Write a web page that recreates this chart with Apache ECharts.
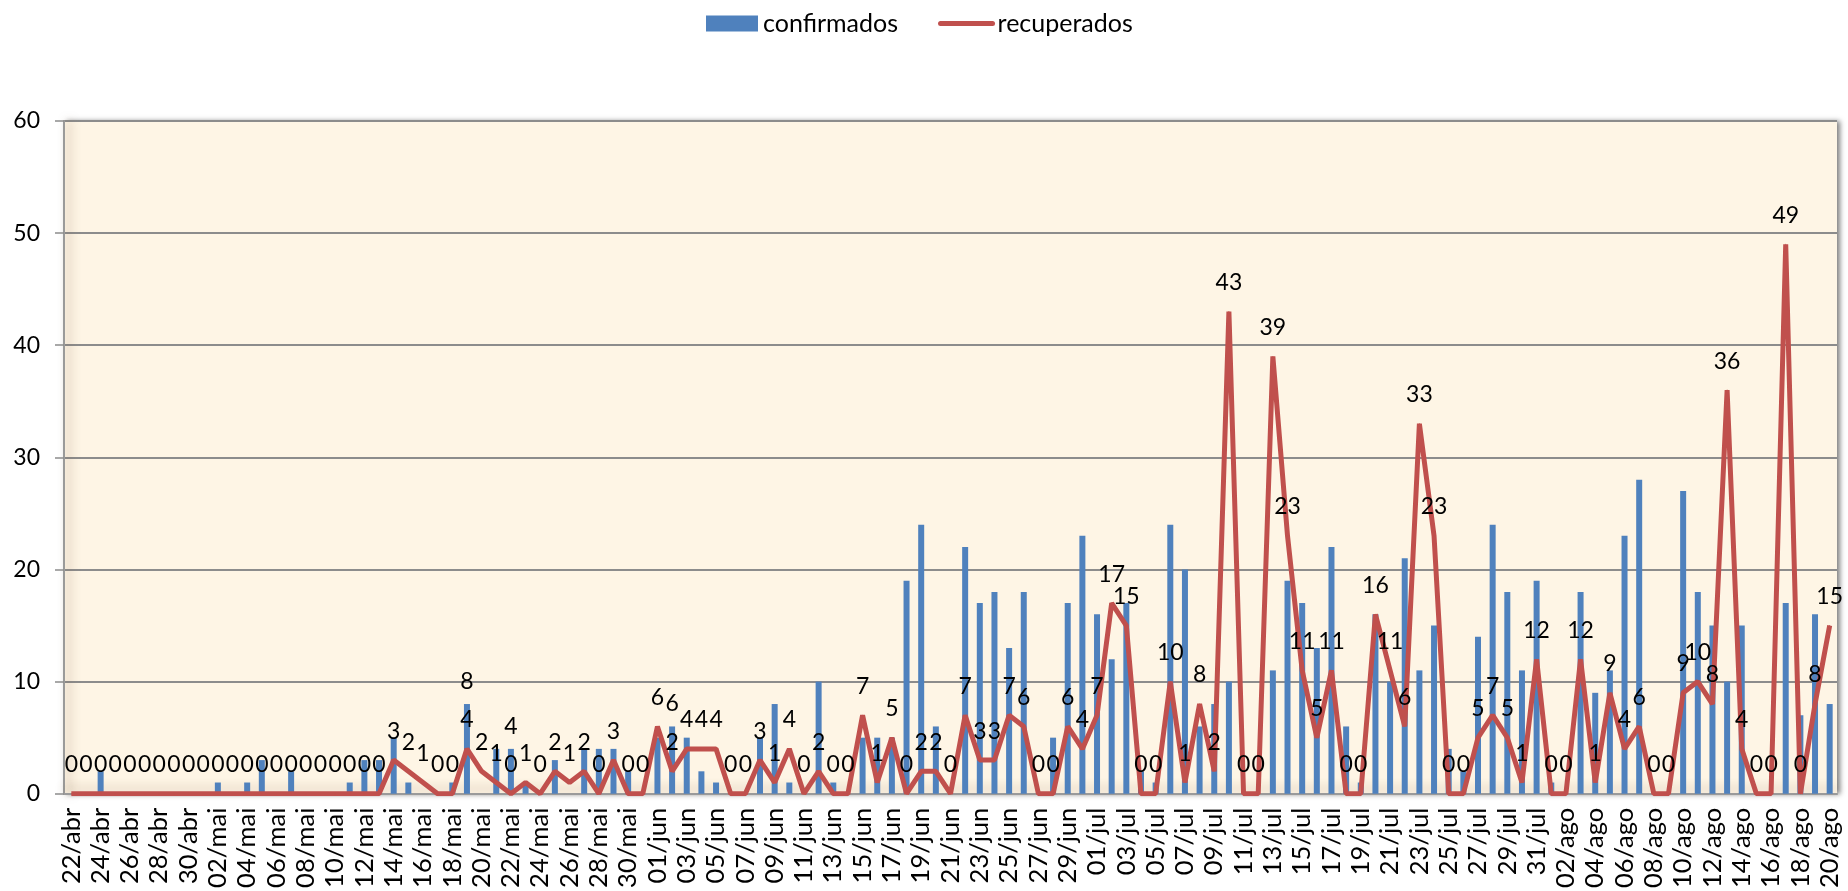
<!DOCTYPE html>
<html>
<head>
<meta charset="utf-8">
<script src="https://cdn.jsdelivr.net/npm/echarts@6/dist/echarts.min.js"></script>
<style>
  html, body { margin: 0; padding: 0; background: #fff; }
  #main { width: 1848px; height: 891px; }
</style>
</head>
<body>
<div id="main"></div>
<script>
// days 22/abr .. 20/ago
const monthRanges = [['abr', 22, 30], ['mai', 1, 31], ['jun', 1, 30], ['jul', 1, 31], ['ago', 1, 20]]
const days = []
monthRanges.forEach(([m, from, to]) => {
  for (let d = from; d <= to; d++) days.push(String(d).padStart(2, '0') + '/' + m)
})

const confirmados = [
  0, 0, 2, 0, 0, 0, 0, 0, 0,
  0, 1, 0, 1, 3, 0, 2, 0, 0, 0, 1, 3, 3, 5, 1, 0, 0, 1, 8, 0, 4, 4, 1, 0, 3, 0, 4, 4, 4, 2, 0,
  5, 6, 5, 2, 1, 0, 0, 5, 8, 1, 0, 10, 1, 0, 5, 5, 5, 19, 24, 6, 0, 22, 17, 18, 13, 18, 0, 5, 17, 23,
  16, 12, 17, 2, 1, 24, 20, 6, 8, 10, 0, 0, 11, 19, 17, 13, 22, 6, 1, 16, 10, 21, 11, 15, 4, 2, 14, 24, 18, 11, 19,
  1, 0, 18, 9, 11, 23, 28, 0, 0, 27, 18, 15, 10, 15, 0, 0, 17, 7, 16, 8
]
const recuperados = [
  0, 0, 0, 0, 0, 0, 0, 0, 0,
  0, 0, 0, 0, 0, 0, 0, 0, 0, 0, 0, 0, 0, 3, 2, 1, 0, 0, 4, 2, 1, 0, 1, 0, 2, 1, 2, 0, 3, 0, 0,
  6, 2, 4, 4, 4, 0, 0, 3, 1, 4, 0, 2, 0, 0, 7, 1, 5, 0, 2, 2, 0, 7, 3, 3, 7, 6, 0, 0, 6, 4,
  7, 17, 15, 0, 0, 10, 1, 8, 2, 43, 0, 0, 39, 23, 11, 5, 11, 0, 0, 16, 11, 6, 33, 23, 0, 0, 5, 7, 5, 1, 12,
  0, 0, 12, 1, 9, 4, 6, 0, 0, 9, 10, 8, 36, 4, 0, 0, 49, 0, 8, 15
]
// bars that carry a value label in the original
const labeledBars = ['19/mai', '22/mai', '02/jun']

const yMin = 0
const yMax = 60
const yStep = 10

const FONT = 'Lato'
const LABEL_SIZE = 23

const chart = echarts.init(document.getElementById('main'))

const option = {
  backgroundColor: '#ffffff',
  animation: false,
  textStyle: { fontFamily: FONT, color: '#000' },
  legend: {
    left: 701,
    top: 6,
    itemGap: 40,
    itemWidth: 52,
    itemHeight: 16,
    textStyle: { fontFamily: FONT, fontSize: 25, color: '#000' },
    data: [
      { name: 'confirmados', icon: 'rect' },
      { name: 'recuperados', itemStyle: { opacity: 0 }, lineStyle: { width: 5, cap: 'round' } }
    ]
  },
  grid: {
    left: 64,
    right: 11,
    top: 121,
    bottom: 95,
    show: true,
    backgroundColor: '#fef5e5',
    borderWidth: 0,
    shadowColor: 'rgba(0,0,0,0.5)',
    shadowBlur: 5,
    shadowOffsetX: 3
  },
  xAxis: {
    type: 'category',
    data: days,
    boundaryGap: true,
    axisLine: {
      lineStyle: {
        color: '#9a9a9a', width: 2,
        shadowColor: 'rgba(120,90,60,0.45)', shadowBlur: 10, shadowOffsetY: -5
      }
    },
    axisTick: { interval: 1, length: 9, lineStyle: { color: '#8c8c8c', width: 1.5 } },
    axisLabel: {
      interval: 1,
      rotate: 90,
      margin: 14,
      fontFamily: FONT,
      fontSize: 25.5,
      color: '#000'
    }
  },
  yAxis: {
    type: 'value',
    min: yMin,
    max: yMax,
    interval: yStep,
    axisLine: {
      show: true,
      lineStyle: {
        color: '#9a9a9a', width: 2,
        shadowColor: 'rgba(120,90,60,0.5)', shadowBlur: 10, shadowOffsetX: 5
      }
    },
    axisTick: { show: true, length: 9, lineStyle: { color: '#8c8c8c', width: 1.5 } },
    axisLabel: { margin: 24, fontFamily: FONT, fontSize: 23, color: '#000' },
    splitLine: { lineStyle: { color: '#8c8c8c', width: 2 } }
  },
  series: [
    {
      name: 'confirmados',
      type: 'bar',
      barWidth: 6,
      itemStyle: { color: '#4f81bd' },
      data: confirmados.map((v, i) => labeledBars.includes(days[i])
        ? { value: v, label: { show: true, position: 'top', distance: 11, fontFamily: FONT, fontSize: LABEL_SIZE, color: '#000' } }
        : v),
      z: 2
    },
    {
      name: 'recuperados',
      type: 'line',
      data: recuperados,
      symbol: 'circle',
      symbolSize: 1,
      showSymbol: true,
      showAllSymbol: true,
      itemStyle: { color: '#c0504d' },
      lineStyle: { color: '#c0504d', width: 5 },
      label: {
        show: true,
        position: 'top',
        distance: 17,
        fontFamily: FONT,
        fontSize: LABEL_SIZE,
        color: '#000'
      },
      z: 3
    }
  ]
}

chart.setOption(option)
</script>
</body>
</html>
